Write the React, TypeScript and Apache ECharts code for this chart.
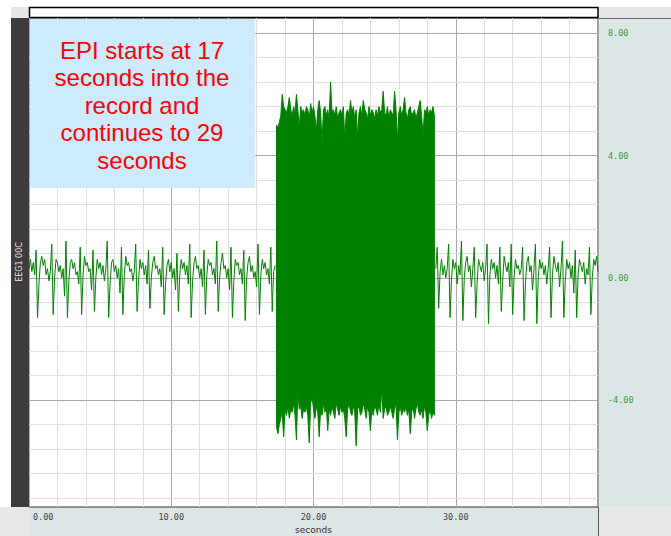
import React, { useEffect, useRef } from "react";
import * as echarts from "echarts";

// ---- data ----
const xTickLabels = [0, 10, 20, 30];
const yMajorTicks = [8, 4, 0, -4];
const yMinorStep = 0.8;
const sampleStep = 0.1;

const preStart = 0;
const preValues = [
  0.3, 0.6, 0.2, 0.5, 0.1, 0.9, -1.3, -0.2, 0.5, 0.7,
  0.4, 0.6, 0.1, 0.3, -0.1, 0.2, 1.1, -1.2, 0.0, 0.6,
  0.5, 0.2, 0.4, 0.0, 0.3, -0.6, 1.2, -1.3, -0.1, 0.5,
  0.6, 0.3, 0.5, 0.1, 0.2, -0.2, 1.0, -1.2, 0.1, 0.7,
  0.4, 0.5, 0.2, 0.3, -0.4, 0.9, -1.1, 0.0, 0.6, 0.3,
  0.5, 0.1, 0.4, -0.1, 0.3, 1.2, -1.3, -0.2, 0.5, 0.6,
  0.2, 0.4, 0.0, 0.3, -0.5, 1.0, -1.2, 0.1, 0.7, 0.4,
  0.5, 0.2, 0.3, -0.1, 0.2, 1.1, -1.1, -0.1, 0.6, 0.3,
  0.5, 0.1, 0.4, -0.2, 0.9, -1.0, 0.0, 0.5, 0.7, 0.3,
  0.4, 0.1, 0.3, -0.3, 1.0, -1.2, -0.2, 0.4, 0.6, 0.2,
  0.5, 0.0, 0.3, -0.4, 0.8, -1.1, 0.1, 0.6, 0.3, 0.5,
  0.1, 0.4, -0.2, 1.1, -1.3, -0.1, 0.5, 0.7, 0.3, 0.4,
  0.0, 0.3, -0.3, 0.9, -1.2, 0.1, 0.6, 0.4, 0.5, 0.1,
  0.3, -0.2, 1.2, -1.1, 0.0, 0.5, 0.8, 0.3, 0.4, 0.0,
  0.3, -0.4, 1.0, -1.3, -0.1, 0.6, 0.4, 0.5, 0.1, 0.3,
  -0.2, 0.9, -1.4, 0.0, 0.5, 0.7, 0.2, 0.4, 0.0, 0.2,
  -0.3, 1.1, -1.2, 0.1, 0.6, 0.3, 0.5, 0.1, 0.3, -0.2,
  1.0, -1.1, 0.2, 0.4,
];

const epiStart = 17.4;
const epiUpper = [
  5.0, 4.9, 5.1, 5.3, 6.0, 5.6, 5.5, 5.4, 5.6, 5.9,
  5.5, 5.3, 5.6, 5.4, 6.0, 5.5, 4.9, 5.6, 5.4, 5.5,
  5.3, 5.6, 5.5, 5.2, 5.7, 5.4, 5.6, 5.3, 4.8, 5.5,
  5.8, 5.4, 4.4, 5.5, 5.6, 5.3, 5.5, 5.2, 6.4, 5.4,
  5.5, 5.3, 5.6, 5.2, 5.4, 5.5, 5.3, 5.6, 4.5, 5.4,
  5.5, 5.3, 5.8, 5.4, 5.6, 5.2, 5.5, 4.6, 5.4, 5.6,
  5.3, 5.8, 5.5, 5.4, 5.2, 5.6, 5.3, 5.5, 5.4, 5.2,
  5.5, 5.3, 5.6, 5.4, 5.5, 6.1, 5.4, 5.3, 5.6, 5.2,
  5.5, 5.4, 5.3, 6.1, 5.5, 4.5, 5.4, 5.6, 5.3, 5.5,
  5.9, 5.4, 5.2, 5.5, 5.6, 5.3, 5.4, 5.5, 5.2, 5.4,
  5.6, 5.8, 5.3, 4.6, 5.5, 5.4, 5.6, 5.3, 5.5, 5.4, 5.6, 5.3,
];
const epiLower = [
  -4.9, -5.1, -4.8, -4.6, -4.4, -5.2, -4.3, -4.5, -4.2, -4.6,
  -4.3, -4.4, -4.1, -4.5, -5.3, -3.7, -4.3, -4.2, -4.6, -4.3,
  -4.4, -4.2, -4.5, -5.4, -4.1, -3.9, -4.3, -4.6, -4.2, -4.4,
  -5.2, -4.3, -4.5, -4.1, -4.4, -4.2, -5.0, -4.3, -4.5, -4.2,
  -4.4, -4.6, -4.1, -4.3, -4.5, -4.2, -4.4, -4.3, -4.6, -5.2,
  -4.3, -4.1, -4.4, -4.5, -4.2, -4.4, -5.5, -4.3, -4.2, -4.5,
  -4.4, -4.1, -4.3, -4.6, -4.2, -4.4, -5.0, -4.3, -4.5, -4.2,
  -4.3, -4.5, -4.1, -4.4, -3.6, -4.6, -4.3, -4.2, -4.5, -4.4,
  -4.2, -4.4, -4.6, -4.3, -4.1, -5.3, -4.4, -4.2, -4.5, -4.3,
  -4.4, -4.2, -4.5, -4.3, -5.1, -4.4, -4.2, -4.6, -4.3, -4.1,
  -4.4, -4.5, -4.3, -4.6, -4.2, -4.4, -5.0, -4.5, -4.3, -4.6, -4.4, -4.5,
];

const postStart = 28.6;
const postValues = [
  0.3, 1.0, -1.0, 0.2, 0.6, 0.1, 0.4, 0.0, 0.3, 1.1,
  -1.3, -0.1, 0.6, 0.3, 0.5, -0.2, 0.4, 0.1, 1.2, -1.4,
  0.0, 0.5, 0.7, 0.2, 0.4, -0.3, 0.3, 1.0, -1.3, -0.2,
  0.6, 0.4, 0.2, 0.5, -0.1, 0.3, 1.1, -1.5, 0.1, 0.6,
  0.3, 0.5, 0.0, 0.4, -0.2, 1.0, -1.1, -0.1, 0.7, 0.4,
  0.2, 0.5, -0.3, 1.1, -1.2, 0.0, 0.6, 0.3, 0.4, 0.1,
  0.3, 1.0, -1.4, -0.2, 0.5, 0.7, 0.2, 0.4, -0.4, 0.3,
  1.1, -1.5, 0.0, 0.6, 0.3, 0.5, 0.1, 0.4, -0.2, 0.3,
  1.0, -1.3, 0.1, 0.7, 0.4, 0.2, 0.5, -0.3, 0.3, 1.2,
  -1.3, -0.1, 0.6, 0.3, 0.5, 0.0, 0.4, -0.5, 0.9, -1.3,
  0.1, 0.6, 0.4, 0.2, 0.5, -0.2, 0.3, 0.1, 1.0, -1.2,
  0.0, 0.6, 0.4, 0.7, 0.2,
];

const channelName = "EEG1 00C";
const xAxisName = "seconds";
const annotationLines = [
  "EPI starts at 17",
  "seconds into the",
  "record and",
  "continues to 29",
  "seconds",
];

const GREEN = "#008000";
const MAJOR = "#a9a9a9";
const MINOR = "#e0e0e0";
const MONO = "DejaVu Sans Mono";

export default function App() {
  const ref = useRef<HTMLDivElement>(null);

  useEffect(() => {
    if (!ref.current) return;
    const chart = echarts.init(ref.current, null, { renderer: "svg" });

    const toPairs = (start: number, vals: number[]) =>
      vals.map((v, i) => [+(start + i * sampleStep).toFixed(2), v]);

    const yMinor: number[] = [];
    for (let k = -9; k <= 10; k++) {
      const v = +(k * yMinorStep).toFixed(1);
      if (!yMajorTicks.includes(v)) yMinor.push(v);
    }

    const gridLines = [
      ...yMinor.map((v) => ({
        yAxis: v,
        lineStyle: { color: MINOR, width: 1, type: "solid" },
        label: { show: false },
      })),
      ...yMajorTicks.map((v) => ({
        yAxis: v,
        lineStyle: { color: MAJOR, width: 1, type: "solid" },
        label: {
          show: true,
          position: "end",
          distance: 10,
          formatter: v.toFixed(2),
          color: "#3d9a3d",
          fontFamily: MONO,
          fontSize: 8.5,
        },
      })),
    ];

    const option: any = {
      animation: false,
      backgroundColor: "#dde6e6",
      grid: {
        left: 29,
        right: 73,
        top: 18,
        bottom: 29,
        outerBoundsMode: "none",
        containLabel: false,
        show: true,
        backgroundColor: "#ffffff",
        borderColor: "#333333",
        borderWidth: 1,
      },
      xAxis: {
        type: "value",
        min: 0,
        max: 40,
        interval: 10,
        name: xAxisName,
        nameLocation: "middle",
        nameGap: 18,
        nameTextStyle: { fontFamily: "DejaVu Sans", fontSize: 9, color: "#333" },
        axisLine: { show: false },
        axisTick: { show: false },
        axisLabel: {
          margin: 5,
          showMaxLabel: false,
          alignMinLabel: "left",
          fontFamily: MONO,
          fontSize: 8.5,
          color: "#444",
          formatter: (v: number) =>
            xTickLabels.includes(v) ? (v === 0 ? "{first|" + v.toFixed(2) + "}" : v.toFixed(2)) : "",
          rich: {
            first: { padding: [0, 0, 0, 4], fontFamily: MONO, fontSize: 8.5, color: "#444" },
          },
        },
        splitLine: { show: true, lineStyle: { color: MAJOR, width: 1 } },
        minorTick: { show: false, splitNumber: 5 },
        minorSplitLine: { show: true, lineStyle: { color: MINOR, width: 1 } },
      },
      yAxis: {
        type: "value",
        min: -7.5,
        max: 8.5,
        position: "right",
        axisLine: { show: false },
        axisTick: { show: false },
        axisLabel: { show: false },
        splitLine: { show: false },
      },
      series: [
        {
          type: "line",
          z: 1,
          clip: false,
          data: [[0, 0]],
          showSymbol: false,
          lineStyle: { opacity: 0 },
          silent: true,
          markLine: {
            z: 1,
            silent: true,
            symbol: ["none", "none"],
            animation: false,
            data: gridLines,
          },
        },
        {
          type: "line",
          z: 3,
          data: toPairs(preStart, preValues),
          showSymbol: false,
          lineStyle: { color: GREEN, width: 1 },
          silent: true,
        },
        {
          type: "custom",
          z: 3,
          silent: true,
          data: [[epiStart, 0]],
          renderItem: (_params: any, api: any) => {
            const top = epiUpper.map((v, i) => api.coord([epiStart + i * sampleStep, v]));
            const bottom = epiLower
              .map((v, i) => api.coord([epiStart + i * sampleStep, v]))
              .reverse();
            return {
              type: "polygon",
              shape: { points: top.concat(bottom) },
              style: { fill: GREEN, stroke: GREEN, lineWidth: 1 },
            };
          },
        },
        {
          type: "line",
          z: 3,
          data: toPairs(postStart, postValues),
          showSymbol: false,
          lineStyle: { color: GREEN, width: 1 },
          silent: true,
        },
      ],
      graphic: [
        { type: "rect", shape: { x: 0, y: 0, width: 671, height: 7 }, style: { fill: "#ffffff" }, silent: true },
        { type: "rect", shape: { x: 0, y: 0, width: 11, height: 507 }, style: { fill: "#ffffff" }, silent: true },
        { type: "rect", shape: { x: 11, y: 7, width: 18, height: 11 }, style: { fill: "#e6e6e6" }, silent: true },
        { type: "rect", shape: { x: 598, y: 7, width: 73, height: 11 }, style: { fill: "#e6e6e6" }, silent: true },
        { type: "rect", shape: { x: 0, y: 507, width: 29, height: 29 }, style: { fill: "#e8e8e8" }, silent: true },
        { type: "rect", shape: { x: 599, y: 507, width: 72, height: 29 }, style: { fill: "#e8e8e8" }, silent: true },
        {
          type: "rect",
          shape: { x: 29.5, y: 7.5, width: 568.5, height: 10 },
          style: { fill: "#ffffff", stroke: "#000000", lineWidth: 1.5 },
          silent: true,
        },
        { type: "rect", shape: { x: 11, y: 18, width: 18, height: 489 }, style: { fill: "#3c3c3c" }, silent: true },
        {
          type: "text",
          x: 19,
          y: 262,
          rotation: Math.PI / 2,
          style: {
            text: channelName,
            fill: "#e6e6e6",
            fontSize: 8,
            fontFamily: "DejaVu Sans",
            align: "center",
            verticalAlign: "middle",
          },
          silent: true,
        },
        { type: "line", shape: { x1: 598.5, y1: 18, x2: 598.5, y2: 536 }, style: { stroke: "#555555", lineWidth: 1 }, silent: true },
        { type: "line", shape: { x1: 598, y1: 18.5, x2: 671, y2: 18.5 }, style: { stroke: "#666666", lineWidth: 1 }, silent: true },
        {
          type: "rect",
          z: 10,
          shape: { x: 30, y: 19, width: 225, height: 169 },
          style: { fill: "#cdebfd" },
          silent: true,
        },
        {
          type: "text",
          z: 11,
          x: 142,
          y: 105,
          style: {
            text: annotationLines.join("\n"),
            fill: "#ff0000",
            fontSize: 24,
            fontFamily: "Liberation Sans",
            align: "center",
            verticalAlign: "middle",
            lineHeight: 27.5,
          },
          silent: true,
        },
      ],
    };

    chart.setOption(option);
    return () => chart.dispose();
  }, []);

  return (
    <div
      ref={ref}
      style={{ position: "fixed", left: 0, top: 0, width: 671, height: 536 }}
    />
  );
}
